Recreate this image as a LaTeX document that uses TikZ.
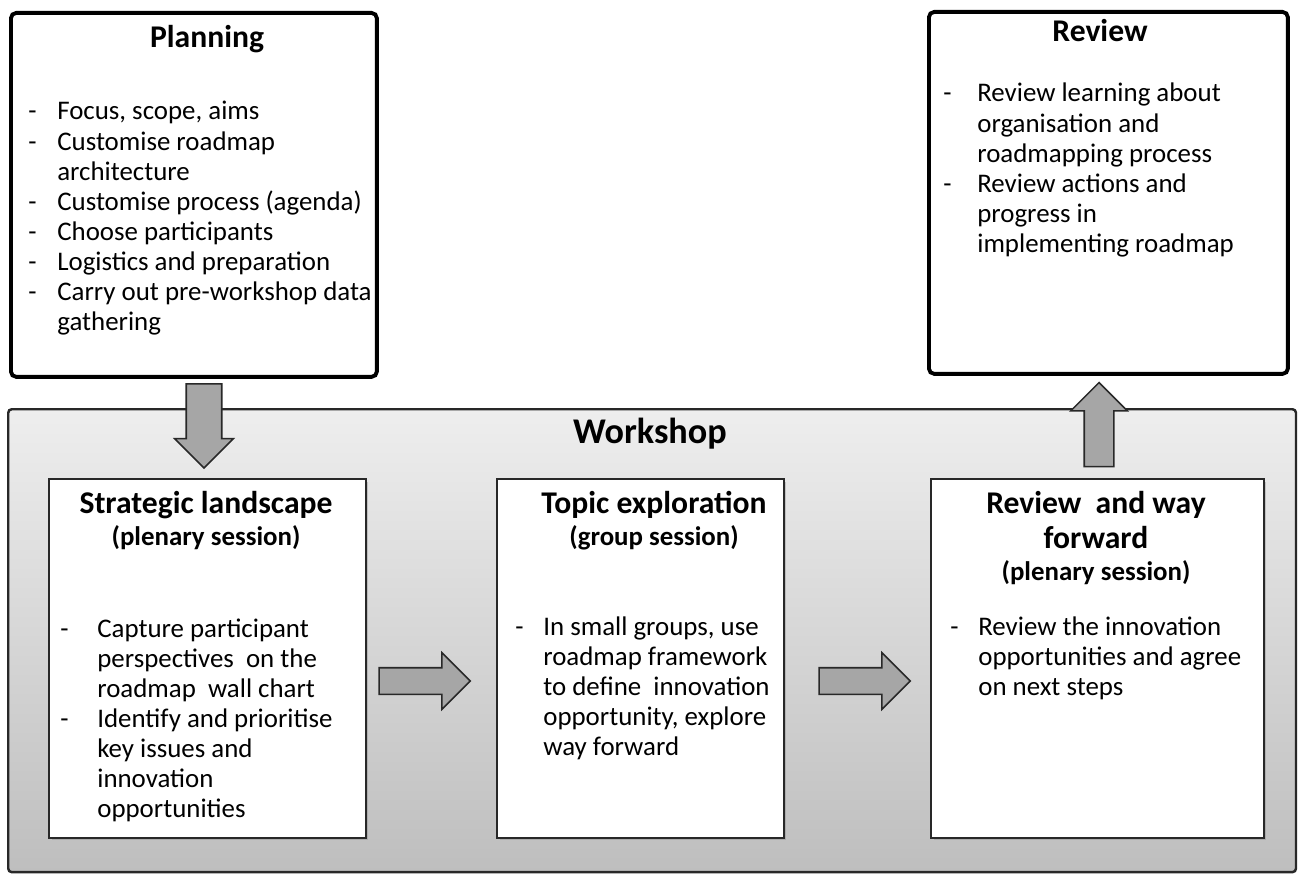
\documentclass[tikz,border=0pt]{standalone}
\usepackage{fontspec}
\setmainfont{Carlito}
\usetikzlibrary{positioning}
\usetikzlibrary{shapes.arrows}
\usetikzlibrary{shadows}
\definecolor{wstop}{RGB}{238,238,238}
\definecolor{wsbot}{RGB}{190,190,190}
\definecolor{arrowfill}{RGB}{166,166,166}
\definecolor{edge}{RGB}{40,40,40}
\tikzset{>=latex}
\tikzstyle{phase} = [rectangle, draw=black, line width=2.2pt, rounded corners=3pt, fill=white, anchor=north west, inner sep=0pt]
\tikzstyle{session} = [rectangle, draw=edge, line width=1pt, fill=white, anchor=north west, inner sep=0pt, drop shadow={shadow xshift=1.5pt, shadow yshift=-1.5pt, opacity=.35}]
\tikzstyle{bigarrow} = [single arrow, draw=edge, line width=0.9pt, fill=arrowfill, inner xsep=0pt, single arrow tip angle=90]
\tikzstyle{head} = [font=\fontsize{18}{20}\selectfont\bfseries, anchor=base, inner sep=0pt]
\tikzstyle{sub} = [font=\fontsize{15.3}{17}\selectfont\bfseries, anchor=base, inner sep=0pt]
\tikzstyle{items} = [font=\fontsize{15.3}{17.1}\selectfont, anchor=base west, inner sep=0pt]
\newcommand{\dashlist}[2]{\begin{tabular}[t]{@{}p{#1}@{}l@{}}#2\end{tabular}}

\begin{document}
\begin{tikzpicture}[x=0.02cm, y=-0.02cm]
\useasboundingbox (0,0) rectangle (1299,875);
% workshop frame
\node [rectangle, draw=edge, line width=1.4pt, rounded corners=2pt, top color=wstop, bottom color=wsbot, anchor=north west, inner sep=0pt, minimum width=25.76cm, minimum height=9.26cm] (ws) at (7,408) {};
\node [head, font=\fontsize{20.6}{24}\selectfont\bfseries] (wstitle) at (650,443) {Workshop};

% planning and review
\node [phase, minimum width=7.32cm, minimum height=7.28cm] (plan) at (9,11) {};
\node [head] (plantitle) at (207,48) {Planning};
\node [items] (planlist) at (28,120) {\dashlist{0.58cm}{%
- & Focus, scope, aims\\
- & Customise roadmap\\
  & architecture\\
- & Customise process (agenda)\\
- & Choose participants\\
- & Logistics and preparation\\
- & Carry out pre-workshop data\\
  & gathering}};

\node [phase, minimum width=7.18cm, minimum height=7.24cm] (rev) at (927,10) {};
\node [head] (revtitle) at (1100,42) {Review};
\node [items] (revlist) at (943,102) {\dashlist{0.68cm}{%
- & Review learning about\\
  & organisation and\\
  & roadmapping process\\
- & Review actions and\\
  & progress in\\
  & implementing roadmap}};

% sessions
\node [session, minimum width=6.34cm, minimum height=7.18cm] (strat) at (48,478) {};
\node [head] (strattitle) at (206,513) {Strategic landscape};
\node [sub] (stratsub) at (206,545) {(plenary session)};
\node [items] (stratlist) at (60,637) {\dashlist{0.74cm}{%
- & Capture participant\\
  & perspectives~ on the\\
  & roadmap~ wall chart\\
- & Identify and prioritise\\
  & key issues and\\
  & innovation\\
  & opportunities}};

\node [session, minimum width=5.74cm, minimum height=7.18cm] (topic) at (496,478) {};
\node [head] (topictitle) at (654,513) {Topic exploration};
\node [sub] (topicsub) at (654,545) {(group session)};
\node [items] (topiclist) at (515,635) {\dashlist{0.56cm}{%
- & In small groups, use\\
  & roadmap framework\\
  & to define~ innovation\\
  & opportunity, explore\\
  & way forward}};

\node [session, minimum width=6.66cm, minimum height=7.18cm] (fwd) at (930,478) {};
\node [head] (fwdtitle) at (1096,513) {Review~ and way};
\node [head] (fwdtitleb) at (1096,548) {forward};
\node [sub] (fwdsub) at (1096,580) {(plenary session)};
\node [items] (fwdlist) at (950,635) {\dashlist{0.56cm}{%
- & Review the innovation\\
  & opportunities and agree\\
  & on next steps}};

% block arrows
\node [bigarrow, rotate=-90, minimum height=1.68cm, inner ysep=0.34cm, single arrow head extend=0.23cm] (down) at (204,417) {};
\node [bigarrow, minimum height=1.82cm, inner ysep=0.25cm, single arrow head extend=0.3cm] (right1) at (418,681) {};
\node [bigarrow, minimum height=1.82cm, inner ysep=0.25cm, single arrow head extend=0.3cm] (right2) at (858,681) {};
\node [bigarrow, rotate=90, minimum height=1.68cm, inner ysep=0.28cm, single arrow head extend=0.27cm] (up) at (1099,432) {};
\end{tikzpicture}
\end{document}
